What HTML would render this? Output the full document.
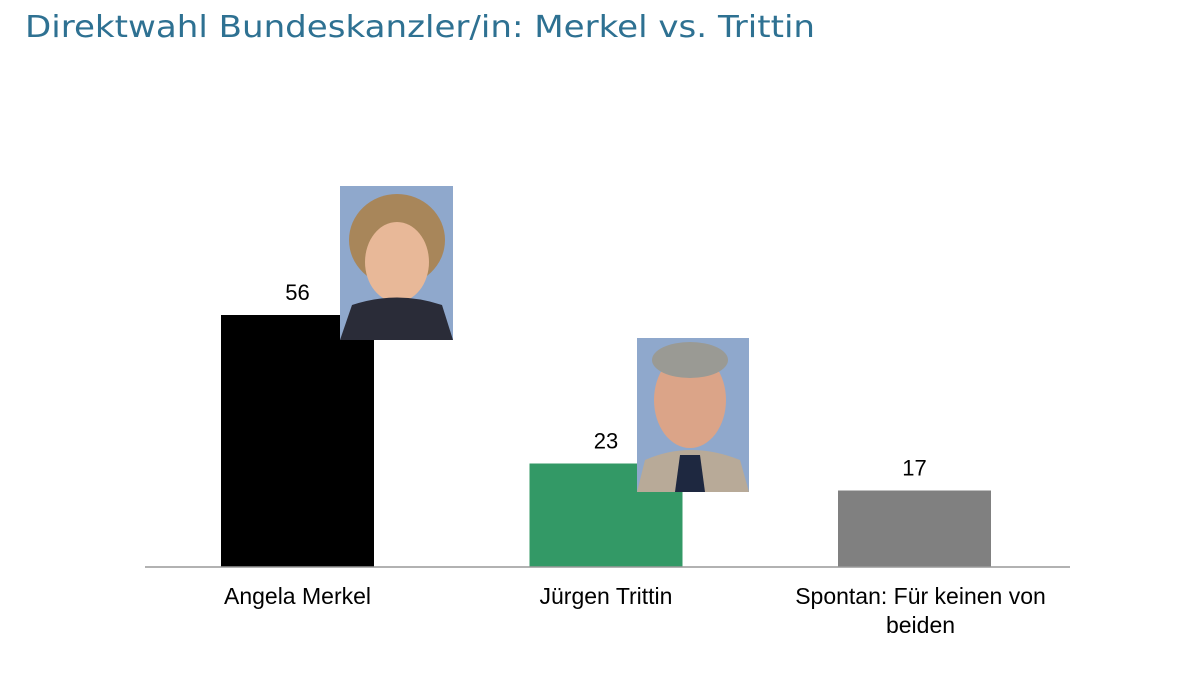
<!DOCTYPE html>
<html><head><meta charset="utf-8"><style>
body{margin:0;background:#fff;width:1200px;height:675px;overflow:hidden}
svg{display:block}
</style></head><body>
<svg width="1200" height="675" viewBox="0 0 1200 675">
<text x="25" y="37" font-family="DejaVu Sans, sans-serif" font-size="30" fill="#2e7192" textLength="790" lengthAdjust="spacingAndGlyphs">Direktwahl Bundeskanzler/in: Merkel vs. Trittin</text>
<g id="bars"></g>
<line x1="145" y1="567" x2="1070" y2="567" stroke="#999" stroke-width="1.5"/>
<g>
<rect x="340" y="186" width="113" height="154" fill="#8fa8cc"/>
<ellipse cx="397" cy="240" rx="48" ry="46" fill="#a8865a"/>
<ellipse cx="397" cy="262" rx="32" ry="40" fill="#e8b898"/>
<path d="M340 340 L352 305 Q397 290 442 305 L453 340 Z" fill="#2a2c38"/>
</g>
<g>
<rect x="637" y="338" width="112" height="154" fill="#8fa8cc"/>
<ellipse cx="690" cy="400" rx="36" ry="48" fill="#dba488"/>
<ellipse cx="690" cy="360" rx="38" ry="18" fill="#9a9a94"/>
<path d="M637 492 L645 460 Q690 440 740 460 L749 492 Z" fill="#b8aa98"/>
<path d="M675 492 L680 455 L700 455 L705 492 Z" fill="#1e2840"/>
</g>
<g id="labels"></g>
</svg>
<script>
const categories=["Angela Merkel","Jürgen Trittin","Spontan: Für keinen von beiden"];
const values=[56,23,17];
const colors=["#000000","#339966","#808080"];
const ns="http://www.w3.org/2000/svg";
const base=567,scale=4.5;
function xPos(i){return 221+i*308.5;}
function yPos(v){return base-v*scale;}
const bw=153;
const bars=document.getElementById('bars');
const labels=document.getElementById('labels');
values.forEach((v,i)=>{
const r=document.createElementNS(ns,'rect');
r.setAttribute('x',xPos(i));r.setAttribute('y',yPos(v));
r.setAttribute('width',bw);r.setAttribute('height',base-yPos(v));
r.setAttribute('fill',colors[i]);


bars.appendChild(r);
const t=document.createElementNS(ns,'text');
t.setAttribute('x',xPos(i)+bw/2);t.setAttribute('y',yPos(v)-15);
t.setAttribute('text-anchor','middle');t.setAttribute('font-family','Liberation Sans, sans-serif');
t.setAttribute('font-size','22');t.textContent=v;


labels.appendChild(t);
const lines=i===2?["Spontan: Für keinen von","beiden"]:[categories[i]];
lines.forEach((ln,j)=>{
const c=document.createElementNS(ns,'text');
c.setAttribute('x',xPos(i)+bw/2+(i===2?6:0));c.setAttribute('y',604+j*29);
c.setAttribute('text-anchor','middle');c.setAttribute('font-family','Liberation Sans, sans-serif');
c.setAttribute('font-size','23');c.textContent=ln;


labels.appendChild(c);
});
});
</script>
</body></html>
